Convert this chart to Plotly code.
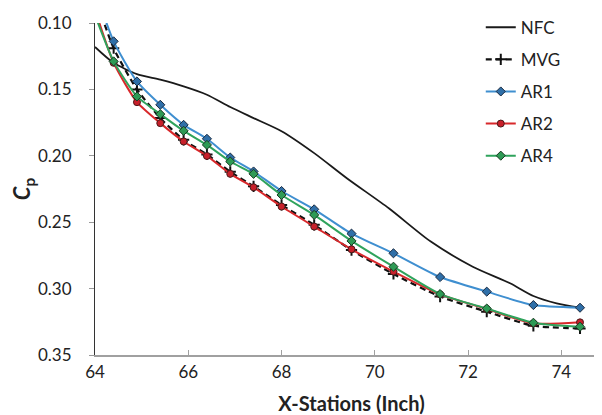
import plotly.graph_objects as go

# NFC (no markers)
nfc_x = [64.0, 64.4, 64.9, 65.4, 65.9, 66.4, 66.9, 67.4, 68.0, 68.7, 69.4, 70.3, 71.2, 72.1, 72.9, 73.4, 73.9, 74.4]
nfc_y = [0.118, 0.130, 0.1385, 0.1427, 0.1477, 0.154, 0.1633, 0.1716, 0.1815, 0.198, 0.2169, 0.2395, 0.2646, 0.2835, 0.296, 0.3056, 0.3111, 0.3144]

# Measurement stations for the controlled cases (first one lies above the plotted range)
st_x = [64.0, 64.4, 64.9, 65.4, 65.9, 66.4, 66.9, 67.4, 68.0, 68.7, 69.5, 70.4, 71.4, 72.4, 73.4, 74.4]

mvg_y = [0.080, 0.119, 0.150, 0.1716, 0.188, 0.199, 0.212, 0.223, 0.237, 0.252, 0.271, 0.289, 0.306, 0.3174, 0.328, 0.330]
ar1_y = [0.075, 0.1138, 0.144, 0.1616, 0.1767, 0.1872, 0.2013, 0.2118, 0.2265, 0.2403, 0.2586, 0.2734, 0.2913, 0.3023, 0.3124, 0.3144]
ar2_y = [0.090, 0.130, 0.1596, 0.1754, 0.1892, 0.2001, 0.2136, 0.2237, 0.2382, 0.2533, 0.2704, 0.2872, 0.3044, 0.3154, 0.3262, 0.3254]
ar4_y = [0.094, 0.1289, 0.1553, 0.1686, 0.1812, 0.1918, 0.2043, 0.2136, 0.2295, 0.2445, 0.2641, 0.2835, 0.3041, 0.315, 0.3257, 0.3287]

x_ticks = [64, 66, 68, 70, 72, 74]
y_ticks = [0.10, 0.15, 0.20, 0.25, 0.30, 0.35]

FONT = "Lato"

fig = go.Figure()
fig.add_trace(go.Scatter(x=nfc_x, y=nfc_y, name="NFC", mode="lines", legendgroup="a",
                         line=dict(color="#1a1a1a", width=1.8, shape="spline", smoothing=0.7)))
fig.add_trace(go.Scatter(x=st_x, y=mvg_y, name="MVG", mode="lines+markers", legendgroup="b",
                         line=dict(color="#111111", width=2.2, dash="6px,4px", shape="spline", smoothing=0.6),
                         marker=dict(symbol="cross-thin", size=8, line=dict(color="#111111", width=2))))
fig.add_trace(go.Scatter(x=st_x, y=ar1_y, name="AR1", mode="lines+markers", legendgroup="c",
                         line=dict(color="#3f8fd0", width=2, shape="spline", smoothing=0.6),
                         marker=dict(symbol="diamond", size=7, color="#2f6fa8", line=dict(color="#1a2a40", width=1))))
fig.add_trace(go.Scatter(x=st_x, y=ar2_y, name="AR2", mode="lines+markers", legendgroup="d",
                         line=dict(color="#d8282b", width=2, shape="spline", smoothing=0.6),
                         marker=dict(symbol="circle", size=7, color="#c8202a", line=dict(color="#4a1a1a", width=1))))
fig.add_trace(go.Scatter(x=st_x, y=ar4_y, name="AR4", mode="lines+markers", legendgroup="e",
                         line=dict(color="#2fa35c", width=2, shape="spline", smoothing=0.6),
                         marker=dict(symbol="diamond", size=7, color="#2e9a55", line=dict(color="#1a3a22", width=1))))

fig.update_layout(
    width=602, height=415,
    margin=dict(l=87, r=2, t=15, b=68),
    paper_bgcolor="white", plot_bgcolor="white",
    font=dict(family=FONT, size=17, color="#222222"),
    legend=dict(x=0.752, y=1.04, xanchor="left", yanchor="top", bgcolor="rgba(0,0,0,0)",
                font=dict(family=FONT, size=17, color="#222222"), tracegroupgap=7,
                itemwidth=30),
    showlegend=True,
)
fig.update_xaxes(range=[64, 75], tickvals=x_ticks, ticktext=[str(v) for v in x_ticks],
                 showgrid=False, zeroline=False, showline=True, linecolor="#a0a0a0", linewidth=1.5,
                 ticks="inside", ticklen=5, tickcolor="#a0a0a0", ticklabelstandoff=1,
                 title=dict(text="<b>X-Stations (Inch)</b>", font=dict(family=FONT, size=20), standoff=16),
                 tickfont=dict(size=17))
fig.update_yaxes(range=[0.35, 0.10], tickvals=y_ticks, ticktext=["%.2f" % v for v in y_ticks],
                 showgrid=False, zeroline=False, showline=True, linecolor="#333333", linewidth=1.2,
                 ticks="outside", ticklen=5, tickcolor="#999999", ticklabelstandoff=14,
                 title=dict(text="<b><i>C</i><sub>p</sub></b>", font=dict(family=FONT, size=22), standoff=4),
                 tickfont=dict(size=17))

fig.write_html("out.html")
